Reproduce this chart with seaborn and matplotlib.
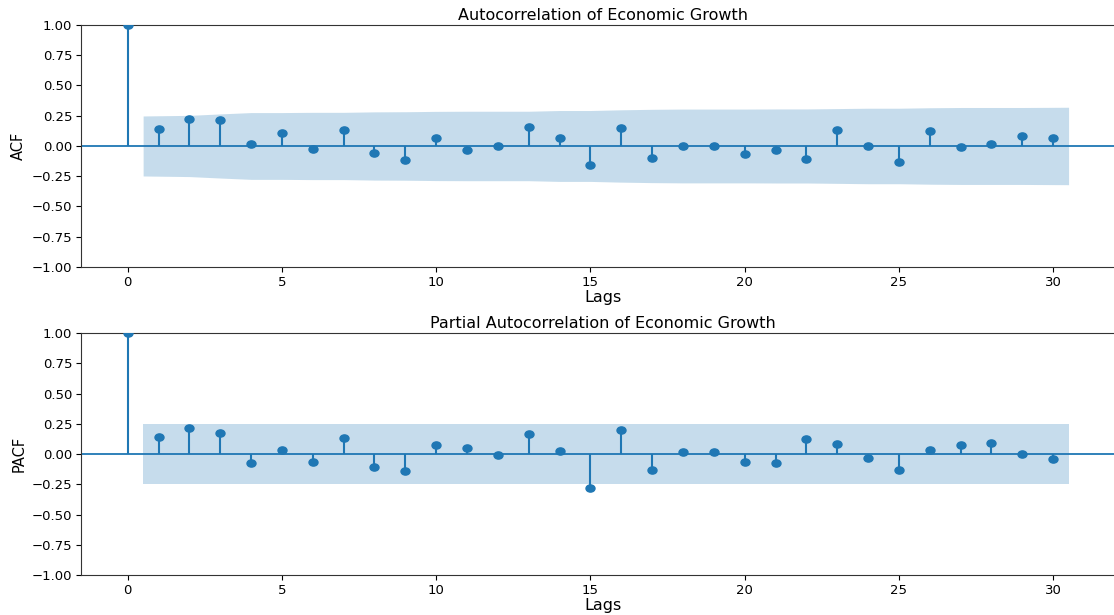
import matplotlib
matplotlib.use('Agg')
import matplotlib.pyplot as plt
from matplotlib.path import Path
import numpy as np
import seaborn as sns

# ACF / PACF values (lags 0..30)
lags = list(range(31))
acf_vals = [1.0, 0.143, 0.226, 0.215, 0.019, 0.107, -0.022, 0.132, -0.058, -0.116,
            0.069, -0.033, 0.003, 0.160, 0.063, -0.157, 0.152, -0.102, 0.003, 0.003,
            -0.063, -0.033, -0.110, 0.132, -0.003, -0.132, 0.121, -0.011, 0.014, 0.080,
            0.063]
pacf_vals = [1.0, 0.141, 0.211, 0.172, -0.072, 0.033, -0.069, 0.136, -0.105, -0.141,
             0.078, 0.053, -0.008, 0.166, 0.025, -0.280, 0.197, -0.136, 0.014, 0.019,
             -0.064, -0.078, 0.122, 0.086, -0.036, -0.136, 0.030, 0.078, 0.089, -0.003,
             -0.044]

# half-width of the 95% band for lags 1..30
acf_band = [0.248, 0.253, 0.265, 0.276, 0.276, 0.278, 0.278, 0.282, 0.283, 0.286,
            0.287, 0.287, 0.287, 0.293, 0.293, 0.299, 0.303, 0.305, 0.305, 0.305,
            0.306, 0.306, 0.309, 0.312, 0.312, 0.316, 0.318, 0.318, 0.318, 0.320]
pacf_band = [0.248] * 30

C0 = '#1f77b4'

# slightly flattened dot, the reference image is squashed vertically
circ = Path.unit_circle()
dot = Path(circ.vertices * np.array([1.0, 0.8]), circ.codes)

fig = plt.figure(figsize=(11.14, 6.15), dpi=100)
ax1 = fig.add_axes([0.0731, 0.5659, 0.9368, 0.3935])
ax2 = fig.add_axes([0.0731, 0.0650, 0.9368, 0.3935])


def draw_corr(ax, vals, band, title, ylabel):
    x = np.array(lags, dtype=float)
    y = np.array(vals)
    ax.vlines(x, 0, y, colors=C0, linewidth=1.5)
    sns.scatterplot(x=x, y=y, ax=ax, color=C0, s=42, marker=dot,
                    edgecolor=C0, linewidth=1, zorder=3)
    ax.axhline(0, color=C0, linewidth=1.3)
    bx = x[1:].copy()
    bx[[0, -1]] += np.array([-0.5, 0.5])
    b = np.array(band)
    ax.fill_between(bx, -b, b, color=C0, alpha=0.25, linewidth=0)
    ax.set_xlim(-1.5, 32.33)
    ax.set_ylim(-1, 1)
    ax.set_yticks([-1, -0.75, -0.5, -0.25, 0, 0.25, 0.5, 0.75, 1])
    ax.set_xticks([0, 5, 10, 15, 20, 25, 30])
    ax.set_title(title, fontsize=11.5, pad=3.5)
    ax.set_xlabel('Lags', fontsize=11.5, labelpad=1)
    ax.set_ylabel(ylabel, fontsize=10.5)
    ax.tick_params(labelsize=9.5, length=3.5, width=0.8, pad=3)
    for sp in ax.spines.values():
        sp.set_color('#333333')


draw_corr(ax1, acf_vals, acf_band, 'Autocorrelation of Economic Growth', 'ACF')
draw_corr(ax2, pacf_vals, pacf_band, 'Partial Autocorrelation of Economic Growth', 'PACF')

fig.savefig('out.png', dpi=100)
